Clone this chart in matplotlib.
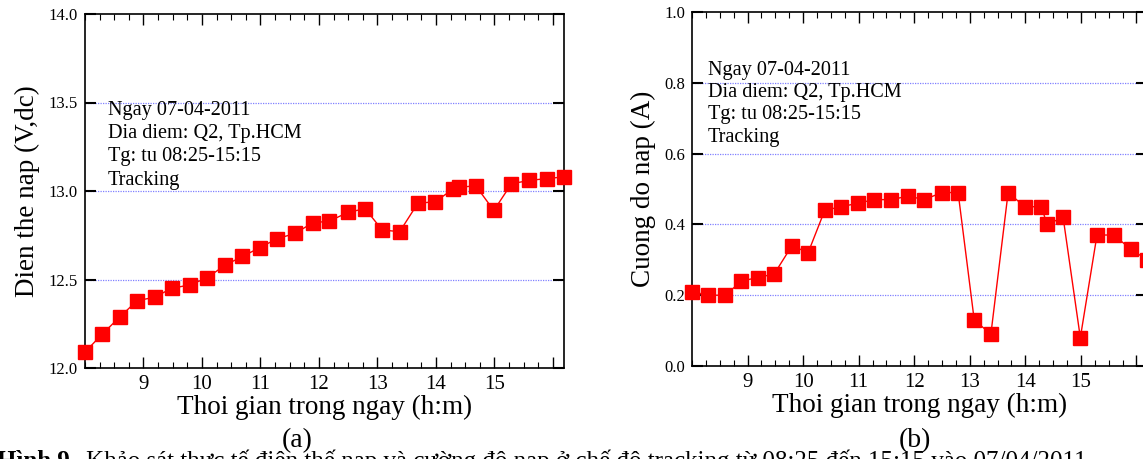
import matplotlib
matplotlib.use("Agg")
import matplotlib.pyplot as plt
from matplotlib.ticker import MultipleLocator, FixedLocator

plt.rcParams['font.family'] = ['Liberation Serif', 'DejaVu Serif']

# Data (time in hours on the chart's axis)
time_h = [8.0, 8.29, 8.6, 8.89, 9.19, 9.48, 9.8, 10.09, 10.39, 10.69, 10.99, 11.28,
          11.59, 11.89, 12.18, 12.5, 12.79, 13.08, 13.38, 13.69, 13.99, 14.29, 14.39,
          14.68, 14.99, 15.29, 15.59, 15.9, 16.19]
voltage = [12.09, 12.19, 12.29, 12.38, 12.40, 12.45, 12.47, 12.51, 12.58, 12.63, 12.68,
           12.73, 12.76, 12.82, 12.83, 12.88, 12.90, 12.78, 12.77, 12.93, 12.94, 13.01,
           13.02, 13.03, 12.89, 13.04, 13.06, 13.07, 13.08]
current = [0.21, 0.20, 0.20, 0.24, 0.25, 0.26, 0.34, 0.32, 0.44, 0.45, 0.46, 0.47, 0.47,
           0.48, 0.47, 0.49, 0.49, 0.13, 0.09, 0.49, 0.45, 0.45, 0.40, 0.42, 0.08, 0.37,
           0.37, 0.33, 0.30]

x_ticks = [9, 10, 11, 12, 13, 14, 15, 16]
x_ticklabels = ['9', '10', '11', '12', '13', '14', '15', '']
volt_ticks = [12.0, 12.5, 13.0, 13.5, 14.0]
volt_grid = [12.5, 13.0, 13.5]
curr_ticks = [0.0, 0.2, 0.4, 0.6, 0.8, 1.0]
curr_grid = [0.2, 0.4, 0.6, 0.8]

info_lines = "Ngay 07-04-2011\nDia diem: Q2, Tp.HCM\nTg: tu 08:25-15:15\nTracking"
xlabel_text = "Thoi gian trong ngay (h:m)"
caption_bold = "Hình 9."
caption_text = "Khảo sát thực tế điện thế nạp và cường độ nạp ở chế độ tracking từ 08:25 đến 15:15 vào 07/04/2011"

W, H = 1143, 459
fig = plt.figure(figsize=(W / 100, H / 100), dpi=100)

def px_axes(l, t, r, b):
    return fig.add_axes([l / W, 1 - b / H, (r - l) / W, (b - t) / H])

ax1 = px_axes(85, 14, 564, 368)
ax2 = px_axes(692, 12, 1147, 366)

grid_color = '#8080ff'

def style(ax, yticks, grid_vals, fmt):
    ax.set_xlim(8.0, 16.19)
    ax.xaxis.set_major_locator(FixedLocator(x_ticks))
    ax.set_xticklabels(x_ticklabels)
    ax.xaxis.set_minor_locator(MultipleLocator(0.25))
    ax.set_yticks(yticks)
    ax.set_yticklabels([fmt.format(v) for v in yticks])
    ax.tick_params(axis='x', which='major', direction='in', length=8, width=1,
                   top=True, bottom=True, labelsize=15, pad=5)
    ax.tick_params(axis='x', which='minor', direction='in', length=4.5, width=0.8,
                   top=True, bottom=True)
    ax.tick_params(axis='y', which='major', direction='in', length=8, width=1.5,
                   left=True, right=True, labelsize=12, pad=5)
    for g in grid_vals:
        ax.axhline(g, color=grid_color, lw=0.9, ls=(0, (1, 1)), zorder=1)
    for s in ax.spines.values():
        s.set_linewidth(1.2)

style(ax1, volt_ticks, volt_grid, "{:.1f}")
ax1.set_ylim(12.0, 14.0)
style(ax2, curr_ticks, curr_grid, "{:.1f}")
ax2.set_ylim(0.0, 1.0)

for ax, vals in ((ax1, voltage), (ax2, current)):
    ax.plot(time_h, vals, color='#ff0000', lw=1, marker='s', markersize=9.5,
            markerfacecolor='#ff0000', markeredgecolor='#ff0000', zorder=5, clip_on=False)

ax1.set_xlabel(xlabel_text, fontsize=19.5, labelpad=1)
ax2.set_xlabel(xlabel_text, fontsize=19.5, labelpad=1)
ax1.set_ylabel("Dien the nap (V,dc)", fontsize=19.5, labelpad=6)
ax2.set_ylabel("Cuong do nap (A)", fontsize=19.5, labelpad=6)

fig.text(108 / W, 1 - 101 / H, info_lines, fontsize=14.6, va='top', ha='left',
         linespacing=1.30)
fig.text(708 / W, 1 - 61 / H, info_lines, fontsize=14.6, va='top', ha='left',
         linespacing=1.23)

fig.text(297 / W, 1 - 441 / H, "(a)", fontsize=20, ha='center', va='center')
fig.text(915 / W, 1 - 441 / H, "(b)", fontsize=20, ha='center', va='center')

t1 = fig.text(-3 / W, 1 - 468 / H, caption_bold, fontsize=18, fontweight='bold',
              ha='left', va='baseline')
fig.canvas.draw()
bb = t1.get_window_extent()
fig.text((bb.x1 + 10) / W, 1 - 468 / H, caption_text, fontsize=18,
         ha='left', va='baseline')

fig.savefig("out.png", dpi=100)
